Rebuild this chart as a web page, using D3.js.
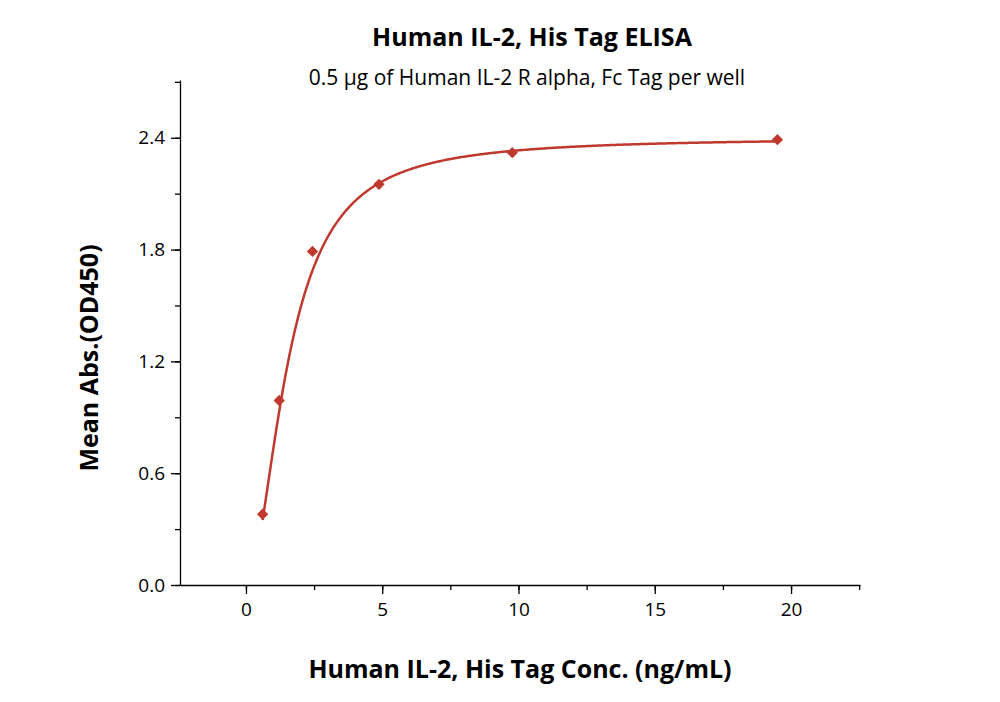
<!DOCTYPE html>
<html><head><meta charset="utf-8">
<script src="https://cdn.jsdelivr.net/npm/d3@7"></script>
<style>body{margin:0;background:#fff;font-family:"Open Sans",sans-serif}</style>
</head><body>
<svg id="chart" width="1000" height="702"></svg>
<script>
const concs = [0.61, 1.22, 2.44, 4.88, 9.77, 19.5];
const absVals = [0.38, 0.99, 1.79, 2.15, 2.32, 2.39];
// fitted 4PL parameters
const fitA = 0, fitB = 1.9, fitC = 1.55, fitD = 2.40;
const xTicks = [0, 5, 10, 15, 20];
const yTicks = [0.0, 0.6, 1.2, 1.8, 2.4];

const svg = d3.select("#chart");
const color = "#c0392f";
const x = d3.scaleLinear().domain([-2.42, 22.53]).range([180, 860]);
const y = d3.scaleLinear().domain([0, 2.71]).range([585, 80]);

const xMinor = d3.range(-2.5, 22.6, 2.5).filter(v => v >= -2.42);
const yMinor = d3.range(0, 2.71, 0.3);

svg.append("g").attr("transform", "translate(0,585)")
  .call(d3.axisBottom(x).tickValues(xMinor).tickSize(5).tickFormat(""))
  .call(g => g.select(".domain").remove());
svg.append("g").attr("transform", "translate(0,585)")
  .call(d3.axisBottom(x).tickValues(xTicks).tickSize(9).tickSizeOuter(0).tickPadding(9).tickFormat(d3.format("d")))
  .call(g => g.selectAll("text").attr("font-size", 19).attr("font-family", "Open Sans"));
svg.append("g").attr("transform", "translate(180,0)")
  .call(d3.axisLeft(y).tickValues(yMinor).tickSize(5).tickFormat(""))
  .call(g => g.select(".domain").remove());
svg.append("g").attr("transform", "translate(180,0)")
  .call(d3.axisLeft(y).tickValues(yTicks).tickSize(9).tickSizeOuter(0).tickPadding(6).tickFormat(d3.format(".1f")))
  .call(g => g.selectAll("text").attr("font-size", 19).attr("font-family", "Open Sans"));
svg.selectAll(".domain, .tick line").attr("stroke", "#000").attr("stroke-width", 1.3);

const fit = v => fitD + (fitA - fitD) / (1 + Math.pow(v / fitC, fitB));
const curveX = d3.range(0.61, 19.51, 0.05);
svg.append("path").datum(curveX)
  .attr("fill", "none").attr("stroke", color).attr("stroke-width", 2.5)
  .attr("d", d3.line().x(d => x(d)).y(d => y(fit(d))));

svg.selectAll(".pt").data(concs).enter().append("path")
  .attr("transform", (d, i) => `translate(${x(d)},${y(absVals[i])}) rotate(45)`)
  .attr("d", d3.symbol(d3.symbolSquare, 64)).attr("fill", color);

svg.append("text").attr("x", 532).attr("y", 46).attr("text-anchor", "middle")
  .attr("font-size", 25).attr("font-weight", "bold").text("Human IL-2, His Tag ELISA");
svg.append("text").attr("x", 527).attr("y", 85).attr("text-anchor", "middle")
  .attr("font-size", 21).text("0.5 µg of Human IL-2 R alpha, Fc Tag per well");
svg.append("text").attr("x", 520).attr("y", 678).attr("text-anchor", "middle")
  .attr("font-size", 25).attr("font-weight", "bold").text("Human IL-2, His Tag Conc. (ng/mL)");
svg.append("text").attr("transform", "translate(98,358) rotate(-90)").attr("text-anchor", "middle")
  .attr("font-size", 25).attr("font-weight", "bold").text("Mean Abs.(OD450)");
</script>
</body></html>
